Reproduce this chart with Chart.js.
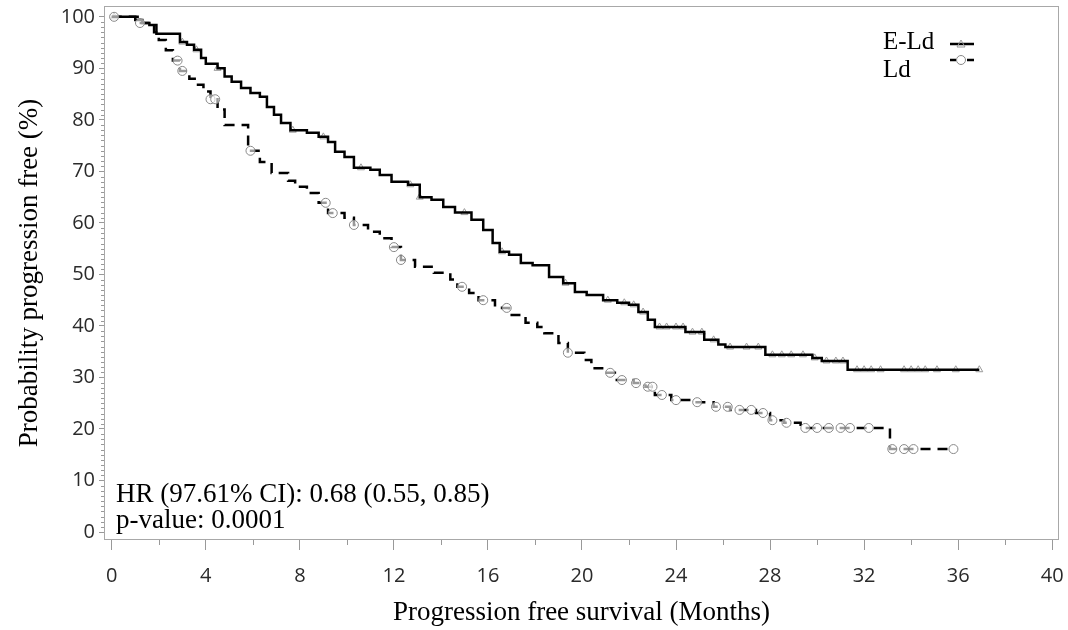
<!DOCTYPE html>
<html>
<head>
<meta charset="utf-8">
<title>Progression free survival</title>
<script src="https://cdn.jsdelivr.net/npm/chart.js@4.4.0/dist/chart.umd.min.js"></script>
<style>
  html, body { margin: 0; padding: 0; background: #fff; }
  #wrap { width: 1068px; height: 630px; }
</style>
</head>
<body>
<div id="wrap"><canvas id="chart" width="1068" height="630"></canvas></div>
<script>
// Kaplan-Meier steps: time of drop (months) and level after the drop (%)
const eldTimes = [0, 1.0, 1.3, 1.6, 1.9, 2.9, 3.2, 3.5, 3.8, 4.0, 4.5, 4.8, 5.1, 5.5, 5.9, 6.3, 6.6, 6.9, 7.2, 7.6, 8.3, 8.8, 9.2, 9.5, 9.9, 10.3, 11.0, 11.4, 11.9, 12.6, 13.1, 13.6, 14.1, 14.6, 15.3, 15.8, 16.2, 16.5, 16.9, 17.4, 17.9, 18.6, 19.2, 19.7, 20.2, 20.9, 21.5, 22.0, 22.4, 22.8, 23.1, 24.4, 25.2, 25.8, 26.1, 27.8, 29.8, 30.2, 31.3, 36.9];
const eldSurv = [100, 99.4, 98.8, 98.4, 96.7, 95.1, 94.6, 93.6, 92, 90.9, 90, 88.4, 87.4, 86.2, 85.2, 84.5, 82.5, 81, 79.4, 78, 77.5, 76.7, 75.7, 73.8, 72.8, 70.7, 70.3, 69.3, 68, 67.4, 65, 64.5, 63.1, 62, 60.6, 58.6, 56.1, 54.4, 53.8, 52.2, 51.8, 49.5, 48.3, 46.6, 46, 45, 44.5, 44.1, 42.7, 41.2, 39.8, 38.8, 37.3, 36.4, 35.9, 34.4, 33.8, 33.2, 31.5, 31.5];
const eldCensor = [0.1, 3.0, 3.6, 4.5, 7.7, 9.0, 10.6, 12.7, 13.1, 15.0, 16.6, 19.3, 21.1, 21.8, 22.2, 22.6, 23.3, 23.6, 24.0, 24.3, 24.7, 25.1, 25.6, 26.3, 27.0, 27.5, 28.1, 28.5, 28.9, 29.4, 29.9, 30.4, 30.8, 31.1, 31.7, 32.0, 32.3, 32.7, 33.7, 34.0, 34.3, 34.6, 35.1, 35.9, 36.9];

const ldTimes = [0, 1.1, 1.8, 2.0, 2.3, 2.6, 2.9, 3.3, 3.6, 3.9, 4.2, 4.5, 4.8, 5.8, 6.3, 6.8, 7.5, 7.8, 8.3, 8.8, 9.2, 9.9, 10.3, 10.9, 11.4, 11.9, 12.3, 12.9, 13.7, 14.4, 14.7, 15.2, 15.6, 16.3, 16.6, 16.9, 17.6, 18.1, 18.4, 19.0, 19.4, 20.1, 20.4, 21.0, 21.4, 22.2, 22.7, 23.1, 23.8, 24.8, 25.6, 26.3, 27.4, 28.0, 28.6, 29.3, 33.1, 35.8];
const ldSurv = [100, 98.8, 97, 95.5, 93.5, 91.5, 89.5, 88, 86.8, 85.5, 84, 82, 79, 74, 71.8, 69.7, 68.2, 67, 65.8, 63.9, 61.9, 61, 59.6, 58.3, 57, 55.3, 52.8, 51.5, 50.3, 49, 47.6, 46.4, 45, 44, 43.5, 42.1, 40.6, 39.8, 38.6, 36.7, 34.8, 33.4, 31.8, 30.9, 29.5, 28.9, 28.2, 26.6, 25.6, 25.2, 24.3, 23.7, 23.1, 21.7, 21.2, 20.2, 16.1, 16.1];
const ldCensor = [0.1, 1.2, 2.8, 3.0, 4.2, 4.4, 5.9, 9.1, 9.4, 10.3, 12.0, 12.3, 14.9, 15.8, 16.8, 19.4, 21.2, 21.7, 22.3, 22.8, 23.0, 23.4, 24.0, 24.9, 25.7, 26.2, 26.7, 27.2, 27.7, 28.1, 28.7, 29.5, 30.0, 30.5, 31.0, 31.4, 32.2, 33.2, 33.7, 34.1, 35.8];

const xTicks = [0, 4, 8, 12, 16, 20, 24, 28, 32, 36, 40];
const yTicks = [0, 10, 20, 30, 40, 50, 60, 70, 80, 90, 100];

const serif = "'Liberation Serif', 'Times New Roman', serif";
const sans = "'Open Sans', 'DejaVu Sans', sans-serif";

function levelAt(times, surv, t) {
  let v = surv[0];
  for (let i = 0; i < times.length; i++) {
    if (times[i] <= t) v = surv[i];
  }
  return v;
}

function toPoints(times, surv) {
  return times.map((t, i) => ({ x: t, y: surv[i] }));
}

function censorPoints(cens, times, surv) {
  return cens.map((t) => ({ x: t, y: levelAt(times, surv, t) }));
}

// keep tick labels from pushing the plot area inwards
function noLabelPadding(s) {
  s.paddingTop = 0;
  s.paddingBottom = 0;
  s.paddingLeft = 0;
  s.paddingRight = 0;
}

const framePlugin = {
  id: "frame",
  afterDraw(chart) {
    const { ctx, chartArea: a, scales } = chart;
    ctx.save();
    ctx.strokeStyle = "#a8a8a8";
    ctx.lineWidth = 1;
    ctx.strokeRect(a.left + 0.5, a.top + 0.5, a.right - a.left - 1, a.bottom - a.top - 1);

    // minor ticks
    ctx.strokeStyle = "#999";
    ctx.beginPath();
    for (let v = 2; v < 40; v += 4) {
      const x = Math.round(scales.x.getPixelForValue(v)) + 0.5;
      ctx.moveTo(x, a.bottom);
      ctx.lineTo(x, a.bottom + 5);
    }
    for (let v = 1; v < 100; v++) {
      if (v % 10 === 0) continue;
      const y = Math.round(scales.y.getPixelForValue(v)) + 0.5;
      ctx.moveTo(a.left - 3, y);
      ctx.lineTo(a.left, y);
    }
    ctx.stroke();

    // annotation
    ctx.fillStyle = "#000";
    ctx.font = "27px " + serif;
    ctx.textAlign = "left";
    ctx.textBaseline = "alphabetic";
    ctx.fillText("HR (97.61% CI): 0.68 (0.55, 0.85)", 116, 502);
    ctx.fillText("p-value: 0.0001", 116, 528);

    // legend
    ctx.font = "25px " + serif;
    ctx.fillText("E-Ld", 883, 49);
    ctx.fillText("Ld", 883, 77);

    ctx.lineWidth = 2.5;
    ctx.strokeStyle = "#000";
    ctx.beginPath();
    ctx.moveTo(950, 44);
    ctx.lineTo(974, 44);
    ctx.stroke();
    ctx.lineWidth = 1;
    ctx.strokeStyle = "#999";
    ctx.beginPath();
    ctx.moveTo(961, 40);
    ctx.lineTo(965, 47);
    ctx.lineTo(957, 47);
    ctx.closePath();
    ctx.stroke();

    ctx.lineWidth = 2.5;
    ctx.strokeStyle = "#000";
    ctx.beginPath();
    ctx.moveTo(950, 60);
    ctx.lineTo(956, 60);
    ctx.moveTo(967, 60);
    ctx.lineTo(974, 60);
    ctx.stroke();
    ctx.lineWidth = 1;
    ctx.strokeStyle = "#888";
    ctx.fillStyle = "#fff";
    ctx.beginPath();
    ctx.arc(961, 60, 4.5, 0, Math.PI * 2);
    ctx.fill();
    ctx.stroke();
    ctx.restore();
  },
};

new Chart(document.getElementById("chart"), {
  type: "scatter",
  data: {
    datasets: [
      {
        label: "Ld censored",
        data: censorPoints(ldCensor, ldTimes, ldSurv),
        pointStyle: "circle",
        pointRadius: 4.5,
        pointBorderColor: "#888",
        pointBackgroundColor: "rgba(255,255,255,0.6)",
        pointBorderWidth: 1,
        showLine: false,
        order: 0,
      },
      {
        label: "E-Ld",
        data: toPoints(eldTimes, eldSurv),
        showLine: true,
        stepped: true,
        borderColor: "#000",
        borderWidth: 2.5,
        pointRadius: 0,
        order: 1,
      },
      {
        label: "E-Ld censored",
        data: censorPoints(eldCensor, eldTimes, eldSurv),
        pointStyle: "triangle",
        pointRadius: 4,
        pointBorderColor: "#9a9a9a",
        pointBackgroundColor: "rgba(255,255,255,0)",
        pointBorderWidth: 1,
        showLine: false,
        order: 2,
      },
      {
        label: "Ld",
        data: toPoints(ldTimes, ldSurv),
        showLine: true,
        stepped: true,
        borderColor: "#000",
        borderWidth: 2.5,
        borderDash: [10, 7],
        pointRadius: 0,
        order: 3,
      },
    ],
  },
  options: {
    responsive: false,
    animation: false,
    devicePixelRatio: 1,
    layout: { padding: { left: 0, top: 6, right: 9, bottom: 0 } },
    plugins: {
      legend: { display: false },
      tooltip: { enabled: false },
    },
    scales: {
      x: {
        type: "linear",
        min: -0.33,
        max: 40.29,
        afterBuildTicks: (s) => { s.ticks = xTicks.map((v) => ({ value: v })); },
        afterFit: (s) => { s.height = 90; noLabelPadding(s); },
        ticks: { font: { family: sans, size: 20 }, color: "#2a2a2a", padding: 14, maxRotation: 0, autoSkip: false },
        grid: { drawOnChartArea: false, drawTicks: true, tickLength: 10, color: "#999" },
        border: { display: false },
        title: {
          display: true,
          text: "Progression free survival (Months)",
          font: { family: serif, size: 27 },
          color: "#000",
          padding: { top: 0, bottom: 1 },
        },
      },
      y: {
        type: "linear",
        min: -1.55,
        max: 102.1,
        afterBuildTicks: (s) => { s.ticks = yTicks.map((v) => ({ value: v })); },
        afterFit: (s) => { s.width = 104; noLabelPadding(s); },
        ticks: { font: { family: sans, size: 20 }, color: "#2a2a2a", padding: 4 },
        grid: { drawOnChartArea: false, drawTicks: true, tickLength: 5, color: "#999" },
        border: { display: false },
        title: {
          display: true,
          text: "Probability progression free (%)",
          font: { family: serif, size: 27 },
          color: "#000",
          padding: { top: 14, bottom: 0 },
        },
      },
    },
  },
  plugins: [framePlugin],
});
</script>
</body>
</html>
